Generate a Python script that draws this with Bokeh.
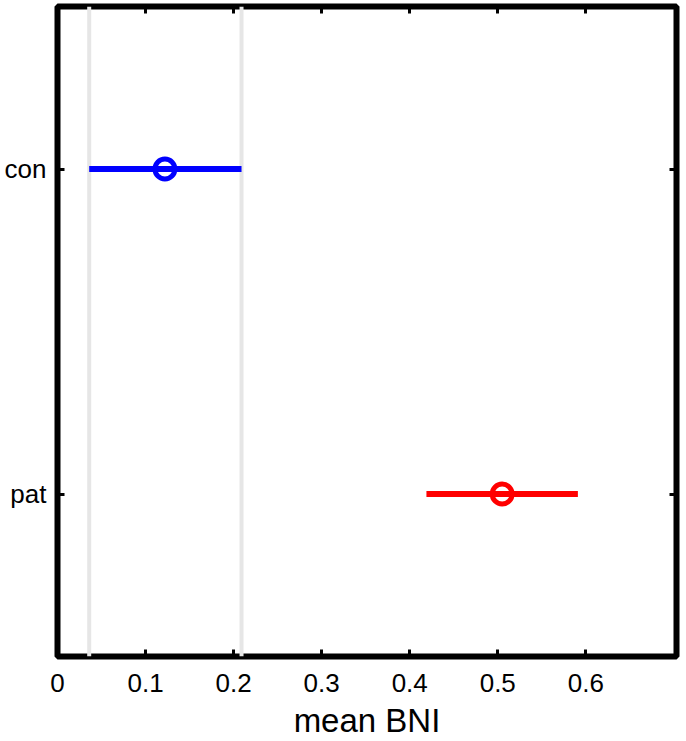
from bokeh.plotting import figure
from bokeh.models import (Range1d, Span, LinearAxis, FixedTicker, ColumnDataSource)
from bokeh.embed import file_html
from bokeh.resources import INLINE

# ---- data ----
groups = ["con", "pat"]
means = [0.122, 0.505]
lower = [0.036, 0.419]
upper = [0.209, 0.591]
x_ticks = [0, 0.1, 0.2, 0.3, 0.4, 0.5, 0.6]
x_label = "mean BNI"

FONT = "Liberation Sans"
colors = ["#0000ff", "#ff0000"]

# category slots: first group at the top
n = len(groups)
ypos = [i + 0.5 for i in range(n)]

src = ColumnDataSource(dict(y=ypos, m=means, lo=lower, hi=upper, c=colors))

p = figure(frame_width=619, frame_height=650, output_backend="svg", toolbar_location=None,
           x_range=Range1d(0, 0.703), y_range=Range1d(n, 0),
           min_border_left=57, min_border_right=8, min_border_top=6, min_border_bottom=40,
           background_fill_color="white", border_fill_color="white")

p.xgrid.visible = False
p.ygrid.visible = False
p.outline_line_color = "black"
p.outline_line_width = 6

# grey reference lines at the control interval bounds
for loc in (lower[0], upper[0]):
    p.add_layout(Span(location=loc, dimension="height", line_color="#e6e6e6",
                      line_width=4, level="underlay"))

p.segment(x0="lo", x1="hi", y0="y", y1="y", source=src, line_color="c", line_width=6)
p.scatter(x="m", y="y", source=src, marker="circle", size=20, fill_color=None,
          line_color="c", line_width=5)

def style_axis(ax):
    ax.axis_line_color = None
    ax.major_tick_in = 7
    ax.major_tick_out = 0
    ax.minor_tick_in = 0
    ax.minor_tick_out = 0
    ax.major_tick_line_width = 3
    ax.major_tick_line_color = "black"

xa = p.xaxis[0]
xa.ticker = FixedTicker(ticks=x_ticks)
style_axis(xa)
xa.major_label_text_font = FONT
xa.major_label_text_font_size = "26px"
xa.major_label_text_color = "black"
xa.major_label_standoff = 17
xa.axis_label = x_label
xa.axis_label_text_font = FONT
xa.axis_label_text_font_size = "33px"
xa.axis_label_text_font_style = "normal"
xa.axis_label_text_color = "black"
xa.axis_label_standoff = 7

ya = p.yaxis[0]
ya.ticker = FixedTicker(ticks=ypos)
ya.major_label_overrides = {y: g for y, g in zip(ypos, groups)}
style_axis(ya)
ya.major_label_text_font = FONT
ya.major_label_text_font_size = "26px"
ya.major_label_text_color = "black"
ya.major_label_standoff = 11

# mirrored inward ticks on top and right, without labels
top = LinearAxis(ticker=FixedTicker(ticks=x_ticks),
                 major_label_overrides={t: "" for t in x_ticks})
style_axis(top)
top.major_label_standoff = 0
p.add_layout(top, "above")

right = LinearAxis(ticker=FixedTicker(ticks=ypos),
                   major_label_overrides={y: "" for y in ypos})
style_axis(right)
right.major_label_standoff = 0
p.add_layout(right, "right")

open("out.html", "w").write(file_html(p, INLINE))
